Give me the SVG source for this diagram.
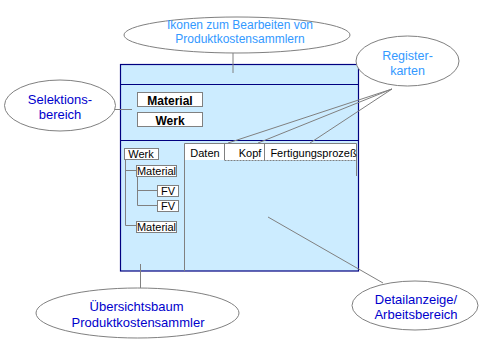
<svg xmlns="http://www.w3.org/2000/svg" width="479" height="359" viewBox="0 0 479 359">
<style>
.ell{fill:#fff;stroke:#808080;stroke-width:1}
.lbl{font-family:"Liberation Sans",Arial,sans-serif;font-size:13px;fill:#0000CC;text-anchor:middle}
.lbl2{font-family:"Liberation Sans",Arial,sans-serif;font-size:12px;fill:#3399FF;text-anchor:middle}
.conn{stroke:#808080;stroke-width:1;fill:none}
.box{fill:#fff;stroke:#808080;stroke-width:1}
.bt{font-family:"Liberation Sans",Arial,sans-serif;font-size:12px;font-weight:bold;fill:#000;text-anchor:middle}
.tt{font-family:"Liberation Sans",Arial,sans-serif;font-size:11px;fill:#000;text-anchor:middle}
.nav{stroke:#000080;stroke-width:1.2;fill:none}
</style>
<rect width="479" height="359" fill="#fff"/>
<g id="window">
<rect x="120.5" y="64.5" width="238" height="206.5" fill="#CCECFF" stroke="#000080" stroke-width="1.2"/>
<line class="nav" x1="120.5" y1="84.5" x2="358.5" y2="84.5"/>
<line class="nav" x1="120.5" y1="140.5" x2="358.5" y2="140.5"/>
</g>
<g id="selection">
<rect class="box" x="137.5" y="92.5" width="65" height="14"/>
<text class="bt" x="170" y="105">Material</text>
<rect class="box" x="137.5" y="112.5" width="65" height="14"/>
<text class="bt" x="170" y="125">Werk</text>
</g>
<g id="tree">
<path class="conn" d="M125.5 159V225.5H137M125.5 170.5H137M137.5 176V205.5H157M137.5 190.5H157"/>
<rect class="box" x="124.5" y="148.5" width="34" height="11"/>
<text class="tt" x="141" y="157.5">Werk</text>
<rect class="box" x="136.5" y="165.5" width="40" height="11"/>
<text class="tt" x="156.5" y="174.5">Material</text>
<rect class="box" x="157.5" y="185.5" width="21" height="11"/>
<text class="tt" x="168" y="194.5">FV</text>
<rect class="box" x="157.5" y="200.5" width="21" height="11"/>
<text class="tt" x="168" y="209.5">FV</text>
<rect class="box" x="136.5" y="221.5" width="40" height="11"/>
<text class="tt" x="156.5" y="230.5">Material</text>
</g>
<g id="tabs">
<rect x="185" y="143.5" width="171" height="16.5" fill="#fff"/>
<path class="conn" d="M184.5 271V143.5H356.5V176M224.5 143.5V160M264.5 143.5V160"/>
<line x1="224.5" y1="160.5" x2="356.5" y2="160.5" stroke="#808080" stroke-dasharray="2,1"/>
<text class="tt" x="205" y="156.5">Daten</text>
<text class="tt" x="250" y="156.5">Kopf</text>
<text class="tt" x="313.5" y="156.5">Fertigungsprozeß</text>
</g>
<g id="connectors">
<line class="conn" x1="233" y1="53" x2="233" y2="73"/>
<line class="conn" x1="115" y1="109.5" x2="132" y2="109.5"/>
<line class="conn" x1="392" y1="89" x2="228" y2="143"/>
<line class="conn" x1="392" y1="89" x2="258" y2="143"/>
<line class="conn" x1="392" y1="89" x2="310" y2="143"/>
<line class="conn" x1="140.5" y1="264" x2="140.5" y2="288"/>
<line class="conn" x1="268" y1="217" x2="383" y2="283"/>
</g>
<g id="n-icons">
<ellipse class="ell" cx="237" cy="35" rx="113" ry="18"/>
<text class="lbl2" x="240" y="29">Ikonen zum Bearbeiten von</text>
<text class="lbl2" x="240" y="42.5">Produktkostensammlern</text>
</g>
<g id="n-selection">
<ellipse class="ell" cx="60" cy="105.5" rx="55.5" ry="25.5"/>
<text class="lbl" x="60" y="103.5">Selektions-</text>
<text class="lbl" x="60" y="118.5">bereich</text>
</g>
<g id="n-register">
<ellipse class="ell" cx="407.5" cy="61" rx="51.5" ry="25"/>
<text class="lbl2" x="407.5" y="60" style="font-size:12.5px">Register-</text>
<text class="lbl2" x="407.5" y="75" style="font-size:12.5px">karten</text>
</g>
<g id="n-tree">
<ellipse class="ell" cx="137.5" cy="313" rx="101.5" ry="25"/>
<text class="lbl" x="136.5" y="311">Übersichtsbaum</text>
<text class="lbl" x="138" y="326.5">Produktkostensammler</text>
</g>
<g id="n-detail">
<ellipse class="ell" cx="415" cy="305.5" rx="63" ry="24.5"/>
<text class="lbl" x="416" y="304">Detailanzeige/</text>
<text class="lbl" x="416" y="319">Arbeitsbereich</text>
</g>
</svg>
